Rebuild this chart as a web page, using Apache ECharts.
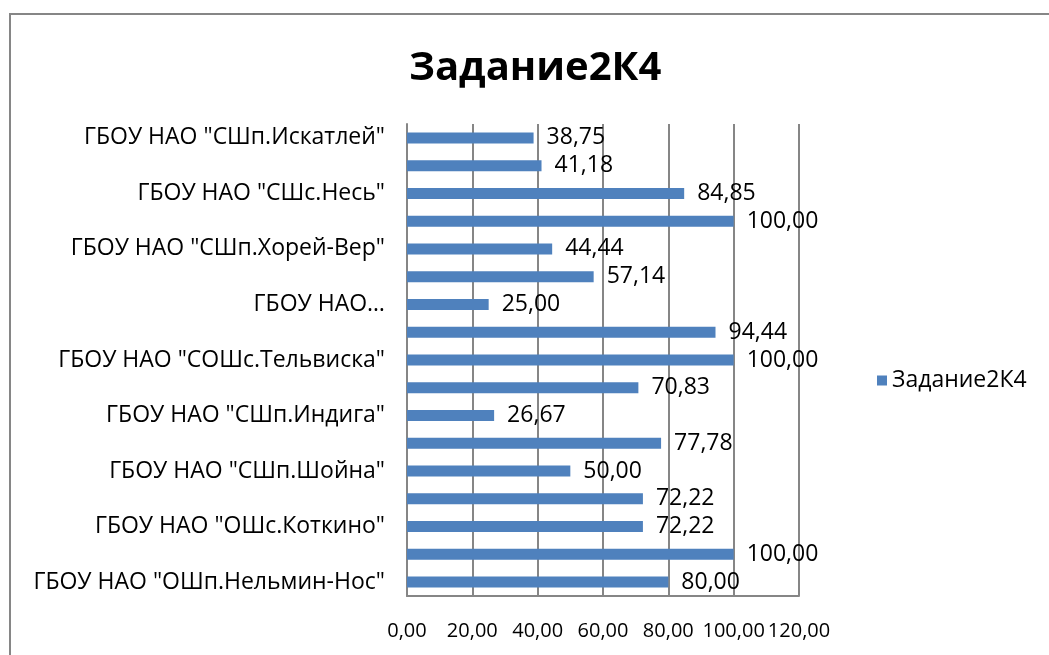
<!DOCTYPE html>
<html>
<head>
<meta charset="utf-8">
<script src="https://cdn.jsdelivr.net/npm/echarts@6/dist/echarts.min.js"></script>
<style>
  html, body { margin: 0; padding: 0; background: #fff; }
  #frame { position: absolute; left: 9px; top: 13px; right: -5px; bottom: -5px; border-left: 2px solid #868686; border-top: 2px solid #868686; }
  #chart { width: 1049px; height: 655px; }
</style>
</head>
<body>
<div id="chart"></div>
<div id="frame"></div>
<script>
// bottom to top, as in the picture
const schools = [
  'ГБОУ НАО "ОШп.Нельмин-Нос"',
  'ГБОУ НАО "СШс.Ома"',
  'ГБОУ НАО "ОШс.Коткино"',
  'ГБОУ НАО "СШс.Нижняя Пеша"',
  'ГБОУ НАО "СШп.Шойна"',
  'ГБОУ НАО "СШп.Красное"',
  'ГБОУ НАО "СШп.Индига"',
  'ГБОУ НАО "СШс.Великовисочное"',
  'ГБОУ НАО "СОШс.Тельвиска"',
  'ГБОУ НАО "СШс.Оксино"',
  'ГБОУ НАО…',
  'ГБОУ НАО "СШп.Каратайка"',
  'ГБОУ НАО "СШп.Хорей-Вер"',
  'ГБОУ НАО "СШп.Амдерма"',
  'ГБОУ НАО "СШс.Несь"',
  'ГБОУ НАО "СШп.Харута"',
  'ГБОУ НАО "СШп.Искатлей"'
];
const task2K4 = [80.00, 100.00, 72.22, 72.22, 50.00, 77.78, 26.67, 70.83, 100.00, 94.44, 25.00, 57.14, 44.44, 100.00, 84.85, 41.18, 38.75];

const fmt = v => Number(v).toFixed(2).replace(".", ",");
const FONT = "Open Sans";

const myChart = echarts.init(document.getElementById("chart"));
myChart.setOption({
  animation: false,
  textStyle: { fontFamily: FONT },
  title: {
    text: "Задание2К4",
    left: 404,
    top: 44,
    textStyle: { fontFamily: FONT, fontSize: 40, fontWeight: "bold", color: "#000" },
  },
  legend: {
    data: ["Задание2К4"],
    orient: "vertical",
    left: 872,
    top: 364,
    itemWidth: 10,
    itemHeight: 10,
    itemGap: 6,
    icon: "rect",
    textStyle: { fontFamily: FONT, fontSize: 23, color: "#000" },
  },
  grid: { left: 407, right: 250, top: 124, bottom: 59 },
  xAxis: {
    type: "value",
    min: 0,
    max: 120,
    interval: 20,
    axisLine: { show: true, lineStyle: { color: "#868686", width: 2 } },
    axisTick: { show: false },
    splitLine: { show: true, lineStyle: { color: "#868686", width: 2 } },
    axisLabel: {
      formatter: fmt,
      margin: 25,
      fontSize: 20,
      color: "#000",
      fontFamily: FONT,
      showMinLabel: true,
      showMaxLabel: true,
    },
  },
  yAxis: {
    type: "category",
    data: schools,
    axisLine: { show: true, lineStyle: { color: "#868686", width: 2 } },
    axisTick: { show: false },
    axisLabel: { interval: 1, margin: 22, fontSize: 23, color: "#000", fontFamily: FONT },
  },
  series: [
    {
      name: "Задание2К4",
      type: "bar",
      data: task2K4,
      barWidth: 11,
      itemStyle: { color: "#4F81BD" },
      label: {
        show: true,
        position: "right",
        distance: 13,
        formatter: p => fmt(p.value),
        fontSize: 23,
        color: "#000",
        fontFamily: FONT,
      },
    },
  ],
});
</script>
</body>
</html>
